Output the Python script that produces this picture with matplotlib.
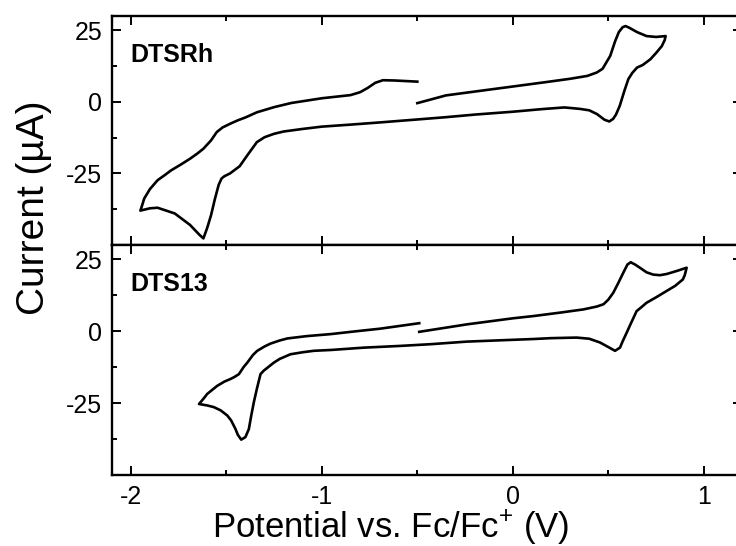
import numpy as np
import matplotlib
matplotlib.use("Agg")
import matplotlib.pyplot as plt
from matplotlib.ticker import MultipleLocator

plt.rcParams['font.family'] = ['Liberation Sans', 'DejaVu Sans']
plt.rcParams['axes.unicode_minus'] = False
plt.rcParams['mathtext.fontset'] = 'custom'
plt.rcParams['mathtext.rm'] = 'Liberation Sans'

# DTSRh cyclic voltammogram (start at -0.5 V, sweep to +0.8, back to -1.95, return to -0.5)
rh_potential = [
    -0.50, -0.35, -0.17, 0.00, 0.18, 0.30, 0.39, 0.44, 0.47, 0.51, 0.535, 0.555, 0.575, 0.59,
    0.61, 0.65, 0.70, 0.75, 0.80,
    0.795, 0.78, 0.75, 0.72, 0.68, 0.65, 0.625, 0.605, 0.585, 0.56, 0.54, 0.525, 0.505, 0.48,
    0.44, 0.40, 0.35, 0.27, 0.15, 0.00, -0.20, -0.35, -0.50, -0.69, -0.85, -1.00, -1.10, -1.20,
    -1.25, -1.30, -1.34, -1.39, -1.43, -1.48, -1.51, -1.525, -1.54, -1.56, -1.58, -1.60, -1.62,
    -1.64, -1.69, -1.77, -1.86, -1.90, -1.95,
    -1.94, -1.93, -1.90, -1.86, -1.82, -1.79, -1.74, -1.69, -1.65, -1.62, -1.58, -1.55, -1.52,
    -1.48, -1.44, -1.40, -1.34, -1.25, -1.16, -1.00, -0.85, -0.80, -0.76, -0.72, -0.68, -0.62,
    -0.50,
]
rh_current = [
    -0.5, 2.2, 3.8, 5.3, 6.9, 8.0, 9.0, 10.2, 11.5, 16.0, 21.0, 24.3, 26.0, 26.4,
    25.8, 24.3, 22.9, 22.6, 22.9,
    21.5, 19.4, 17.0, 14.8, 12.8, 11.9, 10.0, 7.9, 4.0, -1.4, -4.5, -6.0, -6.9, -6.3,
    -4.3, -3.0, -2.5, -2.0, -2.6, -3.5, -4.5, -5.4, -6.2, -7.2, -8.0, -8.7, -9.5, -10.4,
    -11.2, -12.4, -14.1, -18.7, -22.5, -25.0, -26.0, -26.8, -29.0, -34.0, -39.6, -44.0, -47.7,
    -46.5, -43.0, -39.0, -37.0, -37.2, -38.0,
    -36.0, -33.8, -30.5, -27.4, -25.5, -24.0, -22.0, -19.9, -18.0, -16.4, -13.5, -10.6, -9.0,
    -7.7, -6.5, -5.5, -3.7, -1.9, -0.45, 1.2, 2.3, 3.3, 4.8, 6.6, 7.5, 7.4,
    7.0,
]

# DTS13 cyclic voltammogram
s13_potential = [
    -0.49, -0.24, 0.00, 0.11, 0.25, 0.37, 0.44, 0.475, 0.50, 0.526, 0.55, 0.578, 0.60, 0.617,
    0.64, 0.665, 0.70, 0.735, 0.77, 0.805, 0.86, 0.91,
    0.90, 0.89, 0.85, 0.805, 0.75, 0.70, 0.67, 0.648, 0.62, 0.596, 0.575, 0.561, 0.535, 0.50,
    0.456, 0.40, 0.334, 0.20, 0.108, -0.24, -0.43, -0.59, -0.78, -0.95, -1.042, -1.10, -1.164,
    -1.22, -1.251, -1.304, -1.321, -1.34, -1.356, -1.37, -1.382, -1.40, -1.422, -1.44, -1.452,
    -1.475, -1.495, -1.53, -1.565, -1.60, -1.643,
    -1.62, -1.60, -1.548, -1.51, -1.478, -1.455, -1.434, -1.41, -1.39, -1.36, -1.338, -1.30,
    -1.269, -1.22, -1.18, -1.08, -0.955, -0.82, -0.694, -0.49,
]
s13_current = [
    -0.2, 2.4, 4.5, 5.3, 6.5, 7.6, 8.6, 9.4, 11.0, 13.4, 16.5, 20.3, 23.2, 24.0,
    23.2, 22.1, 20.5, 19.7, 19.5, 19.9, 21.0, 22.1,
    19.5, 18.0, 15.8, 14.0, 11.8, 9.9, 8.2, 7.0, 3.0, -0.5, -3.5, -5.7, -6.8, -5.5,
    -3.9, -2.6, -2.2, -2.4, -2.7, -3.6, -4.5, -5.1, -5.7, -6.5, -6.8, -7.3, -8.0,
    -9.6, -10.9, -13.7, -14.9, -20.0, -24.7, -29.5, -34.0, -36.8, -37.7, -36.0, -34.0,
    -31.0, -29.3, -27.5, -26.4, -25.8, -25.3,
    -23.5, -21.8, -19.0, -17.5, -16.6, -15.8, -14.9, -12.5, -10.9, -8.2, -6.8, -5.3,
    -4.3, -3.2, -2.5, -1.7, -1.0, 0.0, 0.9, 2.8,
]

panel_labels = ['DTSRh', 'DTS13']
xticks = [-2, -1, 0, 1]
yticks = [-25, 0, 25]

fig = plt.figure(figsize=(7.36, 5.46), dpi=100)
ax_top = fig.add_axes([0.1518, 0.5513, 0.8564, 0.4199])
ax_bot = fig.add_axes([0.1518, 0.1300, 0.8564, 0.4213])

series = [(rh_potential, rh_current), (s13_potential, s13_current)]
for ax, (xv, yv), label in zip([ax_top, ax_bot], series, panel_labels):
    ax.plot(xv, yv, color='black', lw=1.9, solid_joinstyle='round')
    ax.set_xlim(-2.1, 1.2)
    ax.set_ylim(-50, 30)
    ax.set_xticks(xticks)
    ax.set_yticks(yticks)
    ax.xaxis.set_minor_locator(MultipleLocator(0.5))
    ax.yaxis.set_minor_locator(MultipleLocator(12.5))
    ax.tick_params(which='both', direction='in', top=True, right=True, width=1.4,
                   labelsize=18)
    ax.tick_params(which='major', length=6.5, pad=7)
    ax.tick_params(which='minor', length=3.5)
    for sp in ax.spines.values():
        sp.set_linewidth(1.7)
    ax.text(0.029, 0.83, label, transform=ax.transAxes, fontsize=18,
            fontweight='bold', va='center', ha='left')

ax_top.tick_params(labelbottom=False)

fig.text(34 / 736, 1 - 208 / 546, 'Current (\u00b5A)', rotation=90, fontsize=28,
         ha='center', va='center')
fig.text(391 / 736, 1 - 527 / 546, 'Potential vs. Fc/Fc$^{+}$ (V)', fontsize=25,
         ha='center', va='center')

fig.savefig('out.png', dpi=100)
